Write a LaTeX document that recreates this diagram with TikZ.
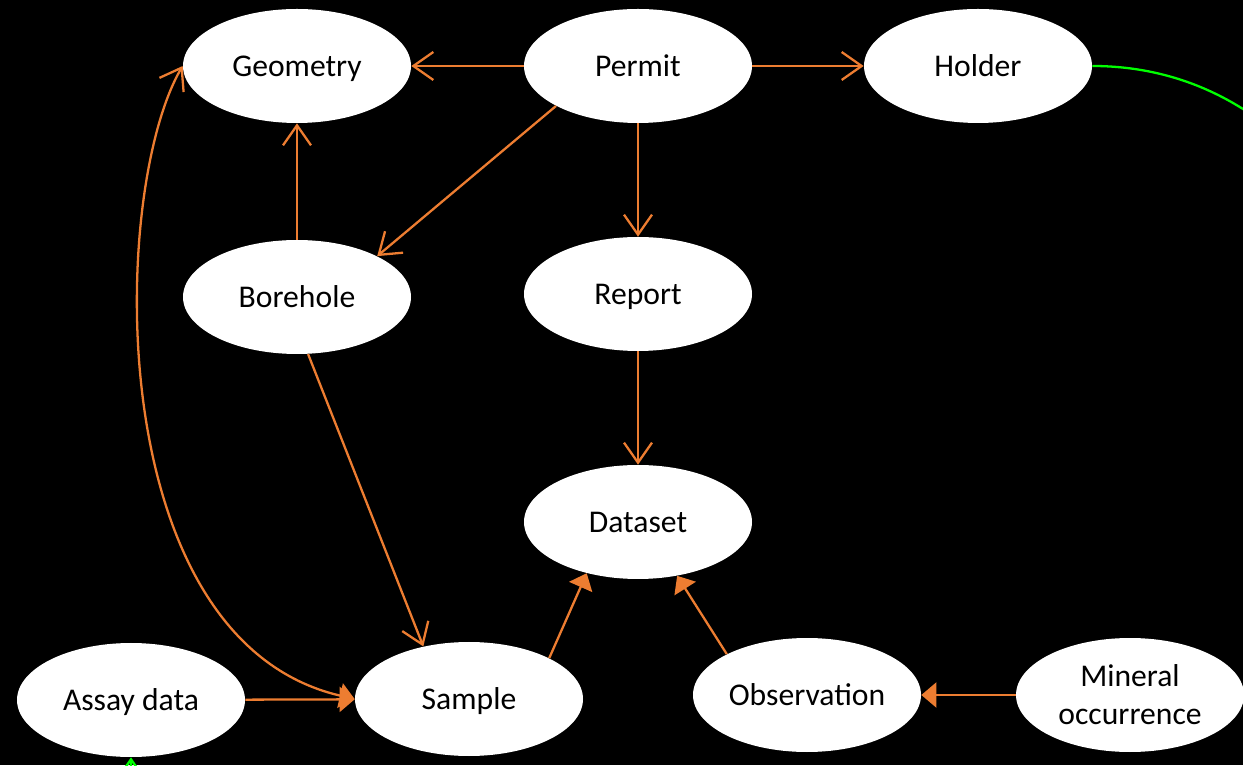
\documentclass[tikz,border=0pt]{standalone}
\usepackage{fontspec}
\setmainfont{Carlito}
\usetikzlibrary{arrows.meta, shapes.geometric}
\definecolor{corange}{HTML}{ED7D31}
\definecolor{cgreen}{HTML}{00FF00}
\tikzset{
  every picture/.style={font=\fontsize{18}{21.6}\selectfont},
  entity/.style={ellipse, fill=white, text=black, inner sep=0pt, minimum width=4.56cm, minimum height=2.28cm},
  word/.style={entity, text depth=0pt},
  openarrow/.style={-{Straight Barb[length=4mm, width=5.6mm]}, draw=#1, line width=1.3pt},
  openarrow/.default=corange,
  solidarrow/.style={-{Triangle[length=3mm, width=5mm]}, draw=corange, line width=1.3pt},
}

\begin{document}
\begin{tikzpicture}
  \path[use as bounding box, fill=black] (0,0) rectangle (24.86,15.3);
  \clip (0,0) rectangle (24.86,15.3);
  % top row
  \node[word] (geometry) at (5.94,13.98) {Geometry};
  \node[word] (permit) at (12.76,13.98) {Permit};
  \node[word] (holder) at (19.56,13.98) {Holder};
  % middle
  \node[word] (borehole) at (5.94,9.36) {Borehole};
  \node[word] (report) at (12.76,9.42) {Report};
  \node[word] (dataset) at (12.76,4.86) {Dataset};
  % bottom row
  \node[word] (assay) at (2.62,1.30) {Assay data};
  \node[word] (sample) at (9.38,1.32) {Sample};
  \node[word] (obs) at (16.14,1.40) {Observation};
  \node[entity, align=center] (mineral) at (22.60,1.40) {Mineral\\occurrence};
  % permit links
  \draw[openarrow] (permit) -- (geometry);
  \draw[openarrow] (permit) -- (holder);
  \draw[openarrow] (permit.206) -- (borehole.27);
  \draw[openarrow] (permit) -- (report);
  \draw[openarrow] (borehole) -- (geometry);
  \draw[openarrow] (report) -- (dataset);
  \draw[openarrow] (borehole.281) -- (sample.131);
  % into dataset
  \draw[solidarrow] (sample.27) -- (dataset.225);
  \draw[solidarrow] (obs.153) -- (dataset.306);
  \draw[solidarrow] (mineral) -- (obs);
  \draw[solidarrow] (assay) -- (sample);
  \draw[{Triangle[length=3mm, width=5mm]}-{Straight Barb[length=4mm, width=5.6mm]}, draw=corange, line width=1.3pt]
    (sample.west) .. controls (2.0,2.5) and (2.2,11.5) .. (geometry.west);
  % holder -> assay data, runs round the outside
  \coordinate (loopR) at (28.4,5.7);
  \coordinate (loopB) at (18.0,-1.9);
  \draw[openarrow=cgreen] (holder.east) to[out=0, in=90] (loopR) to[out=-90, in=0] (loopB) to[out=180, in=-90] (assay.south);
\end{tikzpicture}
\end{document}
